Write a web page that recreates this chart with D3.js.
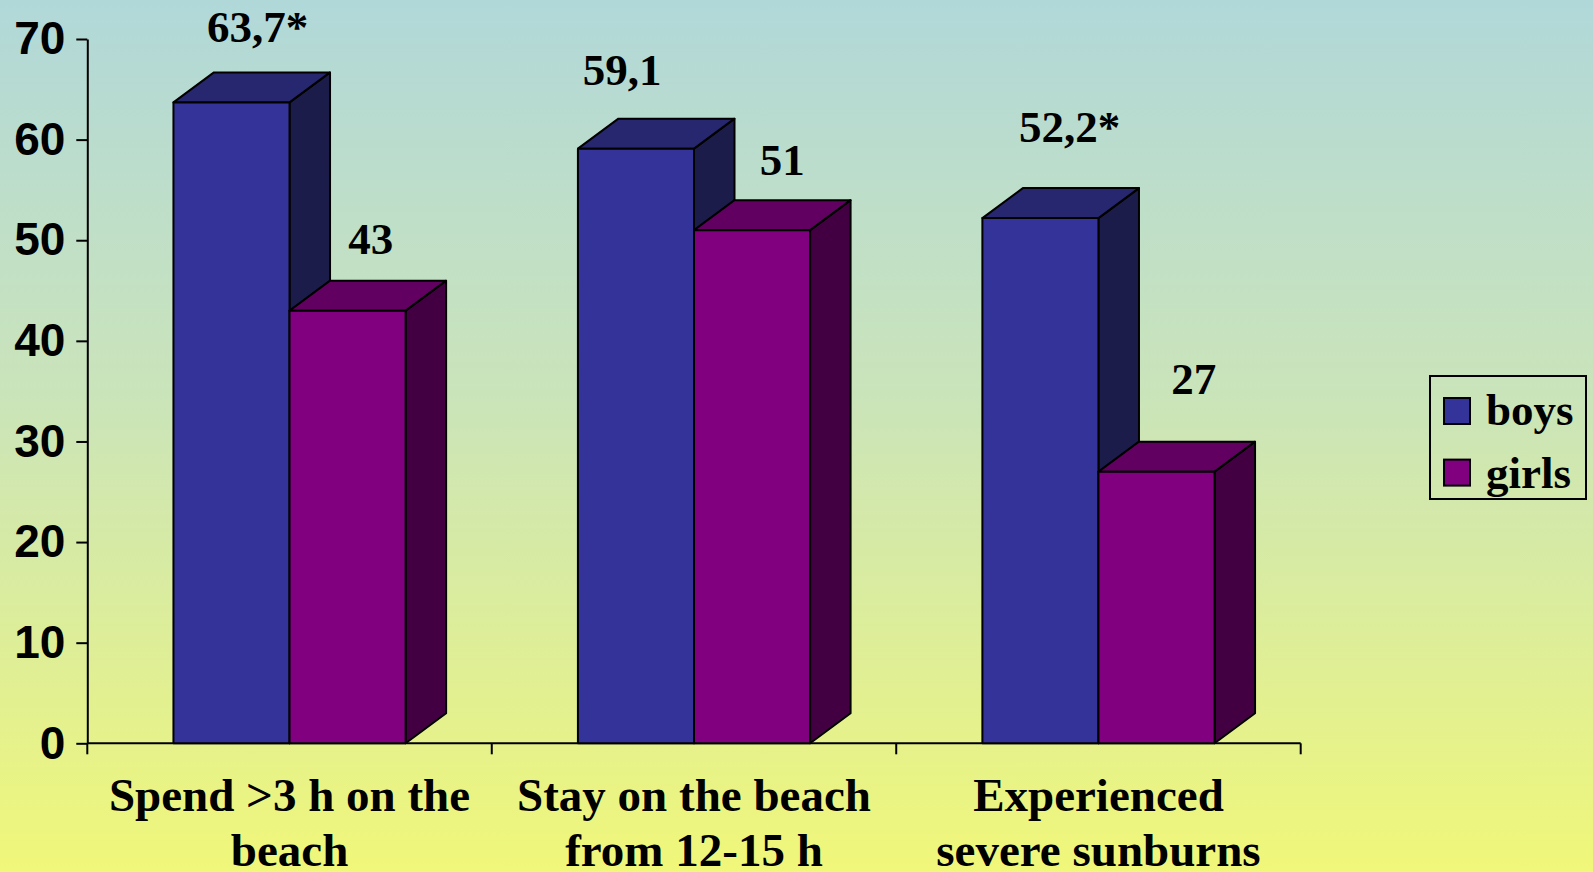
<!DOCTYPE html>
<html>
<head>
<meta charset="utf-8">
<script src="https://cdn.jsdelivr.net/npm/d3@7"></script>
<style>
  html, body { margin: 0; padding: 0; overflow: hidden; }
  svg { display: block; }
</style>
</head>
<body>
<svg id="chart" width="1593" height="872"></svg>
<script>
// Category labels (split into lines) and the two series
const categories = [
  ["Spend >3 h on the", "beach"],
  ["Stay on the beach", "from 12-15 h"],
  ["Experienced", "severe sunburns"]
];
const seriesNames = ["boys", "girls"];
const boys = [63.7, 59.1, 52.2];
const girls = [43, 51, 27];
// significance marker shown after a value
const boysStar = [true, false, true];
const girlsStar = [false, false, false];
const yTicks = [0, 10, 20, 30, 40, 50, 60, 70];

// face colours: front, top, side
const palette = {
  boys:  { front: "#333399", top: "#27276f", side: "#1c1c4b" },
  girls: { front: "#800080", top: "#610061", side: "#420042" }
};

const W = 1593, H = 872;
const svg = d3.select("#chart");

// background gradient
const defs = svg.append("defs");
const grad = defs.append("linearGradient")
  .attr("id", "bg").attr("x1", 0).attr("y1", 0).attr("x2", 0).attr("y2", 1);
grad.append("stop").attr("offset", "0%").attr("stop-color", "#b1d8d9");
grad.append("stop").attr("offset", "45%").attr("stop-color", "#cae4ba");
grad.append("stop").attr("offset", "100%").attr("stop-color", "#f0f779");
svg.append("rect").attr("width", W).attr("height", H).attr("fill", "url(#bg)");

const plot = { left: 87.3, right: 1300.7, top: 39, bottom: 743.3 };
const depthX = 40.5, depthY = 30;

const x0 = d3.scaleBand()
  .domain(d3.range(categories.length))
  .range([plot.left, plot.right])
  .paddingInner(0).paddingOuter(0);
const barW = x0.bandwidth() * 0.287;
const y = d3.scaleLinear().domain([0, 70]).range([plot.bottom, plot.top]);

const serif = "'Liberation Serif', 'Times New Roman', serif";
const sans = "'Liberation Sans', Arial, sans-serif";

// Y axis
const yAxis = svg.append("g")
  .attr("transform", `translate(${plot.left},0)`)
  .call(d3.axisLeft(y).tickValues(yTicks).tickSize(11).tickPadding(11).tickSizeOuter(0));
yAxis.select(".domain").attr("stroke", "#000").attr("stroke-width", 2);
yAxis.selectAll(".tick line").attr("stroke", "#000").attr("stroke-width", 2);
yAxis.selectAll(".tick text")
  .attr("font-family", sans).attr("font-weight", "bold")
  .attr("font-size", 46).attr("fill", "#000");

// X axis line with category boundary ticks
const xg = svg.append("g");
xg.append("line")
  .attr("x1", plot.left).attr("x2", plot.right)
  .attr("y1", y(0)).attr("y2", y(0))
  .attr("stroke", "#000").attr("stroke-width", 2);
const bounds = d3.range(categories.length + 1).map(i =>
  i < categories.length ? x0(i) : x0(i - 1) + x0.bandwidth());
xg.selectAll("line.bt").data(bounds).join("line")
  .attr("class", "bt")
  .attr("x1", d => d).attr("x2", d => d)
  .attr("y1", y(0)).attr("y2", y(0) + 11)
  .attr("stroke", "#000").attr("stroke-width", 2);

// category labels
categories.forEach((lines, i) => {
  const t = xg.append("text")
    .attr("x", x0(i) + x0.bandwidth() / 2)
    .attr("y", 811)
    .attr("text-anchor", "middle")
    .attr("font-family", serif).attr("font-weight", "bold")
    .attr("font-size", 47).attr("fill", "#000");
  lines.forEach((ln, k) => {
    t.append("tspan")
      .attr("x", x0(i) + x0.bandwidth() / 2)
      .attr("dy", k === 0 ? 0 : 55)
      .text(ln);
  });
});

// 3D columns
const series = [
  { key: "boys", values: boys, star: boysStar },
  { key: "girls", values: girls, star: girlsStar }
];
const bars = svg.append("g");
categories.forEach((c, i) => {
  const groupLeft = x0(i) + x0.bandwidth() / 2 - barW;
  series.forEach((s, j) => {
    const v = s.values[i];
    const xl = groupLeft + j * barW, xr = xl + barW;
    const yt = y(v), yb = y(0);
    const col = palette[s.key];
    const g = bars.append("g")
      .attr("stroke", "#000").attr("stroke-width", 2).attr("stroke-linejoin", "round");
    // side face
    g.append("path")
      .attr("d", `M${xr},${yb} L${xr + depthX},${yb - depthY} L${xr + depthX},${yt - depthY} L${xr},${yt} Z`)
      .attr("fill", col.side);
    // top face
    g.append("path")
      .attr("d", `M${xl},${yt} L${xl + depthX},${yt - depthY} L${xr + depthX},${yt - depthY} L${xr},${yt} Z`)
      .attr("fill", col.top);
    // front face
    g.append("rect")
      .attr("x", xl).attr("y", yt).attr("width", barW).attr("height", yb - yt)
      .attr("fill", col.front);
  });
});

// value labels, nudged individually as placed in the original layout
const labelNudge = {
  boys:  [[6, 0], [-34, -4], [9, -16]],
  girls: [[3, 3], [10, 5], [17, -18]]
};
const fmt = v => String(v).replace(".", ",");
const labels = svg.append("g");
categories.forEach((c, i) => {
  const groupLeft = x0(i) + x0.bandwidth() / 2 - barW;
  series.forEach((s, j) => {
    const v = s.values[i];
    const cx = groupLeft + j * barW + barW / 2 + depthX / 2;
    const by = y(v) - depthY - 30;
    const n = labelNudge[s.key][i];
    labels.append("text")
      .attr("x", cx + n[0]).attr("y", by + n[1])
      .attr("text-anchor", "middle")
      .attr("font-family", serif).attr("font-weight", "bold")
      .attr("font-size", 45).attr("fill", "#000")
      .text(fmt(v) + (s.star[i] ? "*" : ""));
  });
});

// legend
const lg = svg.append("g").attr("transform", "translate(1430,376)");
lg.append("rect").attr("width", 156).attr("height", 123)
  .attr("fill", "none").attr("stroke", "#000").attr("stroke-width", 2);
seriesNames.forEach((name, k) => {
  lg.append("rect")
    .attr("x", 14).attr("y", 22 + k * 61.6)
    .attr("width", 26).attr("height", 26)
    .attr("fill", palette[name].front)
    .attr("stroke", "#000").attr("stroke-width", 2);
  lg.append("text")
    .attr("x", 56).attr("y", 49 + k * 62.5)
    .attr("font-family", serif).attr("font-weight", "bold")
    .attr("font-size", 45).attr("fill", "#000")
    .text(name);
});
</script>
</body>
</html>
